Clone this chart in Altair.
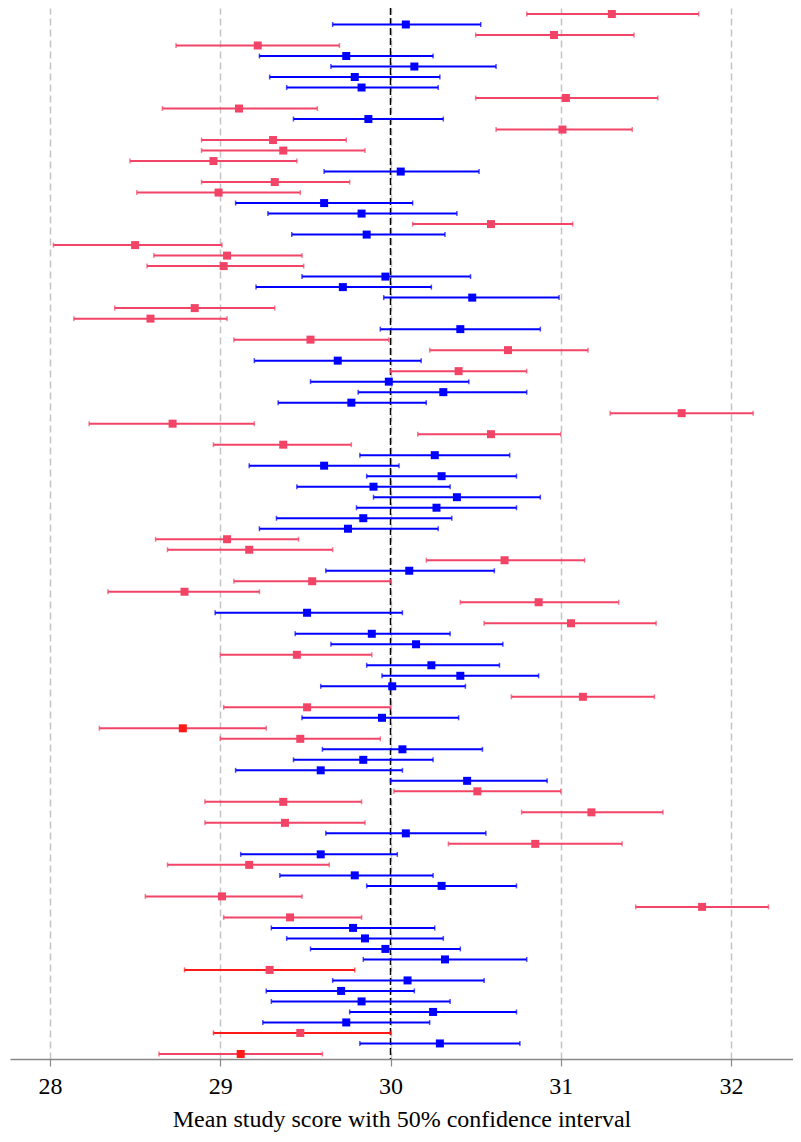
import altair as alt
import pandas as pd

# Mean study score, 50% CI lower and upper bounds (top row first)
center = [31.30, 30.09, 30.96, 29.22, 29.74, 30.14, 29.79, 29.83, 31.03, 29.11,
          29.87, 31.01, 29.31, 29.37, 28.96, 30.06, 29.32, 28.99, 29.61, 29.83,
          30.59, 29.86, 28.50, 29.04, 29.02, 29.97, 29.72, 30.48, 28.85, 28.59,
          30.41, 29.53, 30.69, 29.69, 30.40, 29.99, 30.31, 29.77, 31.71, 28.72,
          30.59, 29.37, 30.26, 29.61, 30.30, 29.90, 30.39, 30.27, 29.84, 29.75,
          29.04, 29.17, 30.67, 30.11, 29.54, 28.79, 30.87, 29.51, 31.06, 29.89,
          30.15, 29.45, 30.24, 30.41, 30.01, 31.13, 29.51, 29.95, 28.78, 29.47,
          30.07, 29.84, 29.59, 30.45, 30.51, 29.37, 31.18, 29.38, 30.09, 30.85,
          29.59, 29.17, 29.79, 30.30, 29.01, 31.83, 29.41, 29.78, 29.85, 29.97,
          30.32, 29.29, 30.10, 29.71, 29.83, 30.25, 29.74, 29.47, 30.29, 29.12]
lower = [30.80, 29.66, 30.50, 28.74, 29.23, 29.65, 29.29, 29.39, 30.50, 28.66,
         29.43, 30.62, 28.89, 28.89, 28.47, 29.61, 28.89, 28.51, 29.09, 29.28,
         30.13, 29.42, 28.02, 28.61, 28.57, 29.48, 29.21, 29.96, 28.38, 28.14,
         29.94, 29.08, 30.23, 29.20, 30.00, 29.53, 29.81, 29.34, 31.29, 28.23,
         30.16, 28.96, 29.82, 29.17, 29.86, 29.45, 29.90, 29.80, 29.33, 29.23,
         28.62, 28.69, 30.21, 29.62, 29.08, 28.34, 30.41, 28.97, 30.55, 29.44,
         29.65, 29.00, 29.86, 29.95, 29.59, 30.71, 29.02, 29.48, 28.29, 29.00,
         29.60, 29.43, 29.09, 30.00, 30.02, 28.91, 30.77, 28.91, 29.62, 30.34,
         29.12, 28.69, 29.35, 29.86, 28.56, 31.44, 29.02, 29.30, 29.39, 29.53,
         29.84, 28.79, 29.66, 29.27, 29.30, 29.76, 29.25, 28.96, 29.82, 28.64]
upper = [31.81, 30.53, 31.43, 29.70, 30.25, 30.62, 30.29, 30.28, 31.57, 29.57,
         30.31, 31.42, 29.74, 29.85, 29.45, 30.52, 29.76, 29.47, 30.13, 30.39,
         31.07, 30.32, 29.01, 29.48, 29.49, 30.47, 30.24, 30.99, 29.32, 29.04,
         30.88, 29.99, 31.16, 30.18, 30.80, 30.46, 30.80, 30.21, 32.13, 29.20,
         31.00, 29.77, 30.70, 30.05, 30.74, 30.35, 30.88, 30.74, 30.36, 30.28,
         29.46, 29.66, 31.14, 30.61, 30.00, 29.23, 31.34, 30.07, 31.56, 30.35,
         30.66, 29.89, 30.64, 30.87, 30.44, 31.55, 30.00, 30.40, 29.27, 29.94,
         30.54, 30.25, 30.07, 30.92, 31.00, 29.83, 31.60, 29.85, 30.56, 31.36,
         30.04, 29.64, 30.25, 30.74, 29.48, 32.22, 29.83, 30.26, 30.31, 30.41,
         30.80, 29.79, 30.55, 30.14, 30.35, 30.74, 30.23, 30.00, 30.76, 29.60]

# rows drawn in blue (interval covers 30); all others are pink
blue_rows = [1, 4, 5, 6, 7, 10, 15, 18, 19, 21, 25, 26, 27, 30, 33, 35, 36, 37,
             42, 43, 44, 45, 46, 47, 48, 49, 53, 57, 59, 60, 62, 63, 64, 67, 70,
             71, 72, 73, 78, 80, 82, 83, 87, 88, 89, 90, 92, 93, 94, 95, 96, 98]
# rows whose interval line / marker is pure red
red_bar_rows = [91, 97]
red_point_rows = [68, 99]

BLUE = "#0000FF"
PINK = "#F24466"
RED = "#FF1A1A"

rows = list(range(len(center)))
bar_col, pt_col = [], []
for i in rows:
    base_c = BLUE if i in blue_rows else PINK
    bar_col.append(RED if i in red_bar_rows else base_c)
    pt_col.append(RED if i in red_point_rows else base_c)

df = pd.DataFrame({"row": rows, "center": center, "lower": lower,
                   "upper": upper, "bar_col": bar_col, "pt_col": pt_col})

xscale = alt.Scale(domain=[27.765, 32.364], nice=False, zero=False)
yscale = alt.Scale(domain=[-0.57, 99.48], reverse=True, nice=False, zero=False)

base = alt.Chart(df)

bars = base.mark_rule(strokeWidth=2).encode(
    x=alt.X("lower:Q", scale=xscale,
            axis=alt.Axis(values=[28, 29, 30, 31, 32], format="d",
                          title="Mean study score with 50% confidence interval",
                          grid=True, gridDash=[7, 4], gridColor="#c4c4c4",
                          gridWidth=1.5, domainColor="#888888", domainWidth=1.5,
                          tickColor="#888888", tickSize=7, tickWidth=1.2,
                          labelFont="Liberation Serif", labelFontSize=24,
                          labelColor="black", labelPadding=8,
                          titleFont="Liberation Serif", titleFontSize=24,
                          titleFontWeight="normal", titleColor="black",
                          titlePadding=9)),
    x2="upper:Q",
    y=alt.Y("row:Q", scale=yscale, axis=None),
    color=alt.Color("bar_col:N", scale=None),
)

cap_lo = base.mark_tick(orient="vertical", size=5, thickness=1.5).encode(
    x=alt.X("lower:Q", scale=xscale),
    y=alt.Y("row:Q", scale=yscale),
    color=alt.Color("bar_col:N", scale=None),
)
cap_hi = base.mark_tick(orient="vertical", size=5, thickness=1.5).encode(
    x=alt.X("upper:Q", scale=xscale),
    y=alt.Y("row:Q", scale=yscale),
    color=alt.Color("bar_col:N", scale=None),
)

ref = alt.Chart(pd.DataFrame({"v": [30]})).mark_rule(
    color="black", strokeDash=[7, 3], strokeWidth=1.5
).encode(x=alt.X("v:Q", scale=xscale))

points = base.mark_square(size=64, opacity=1, filled=True).encode(
    x=alt.X("center:Q", scale=xscale),
    y=alt.Y("row:Q", scale=yscale),
    color=alt.Color("pt_col:N", scale=None),
)

chart = alt.layer(ref, bars, cap_lo, cap_hi, points).properties(
    width=783, height=1051,
    padding={"left": 2, "top": 0, "right": 0, "bottom": 75},
    autosize=alt.AutoSizeParams(type="none"),
).configure(background="white").configure_view(stroke=None)

chart.save("out.html", embed_options={"renderer": "svg", "actions": False})
